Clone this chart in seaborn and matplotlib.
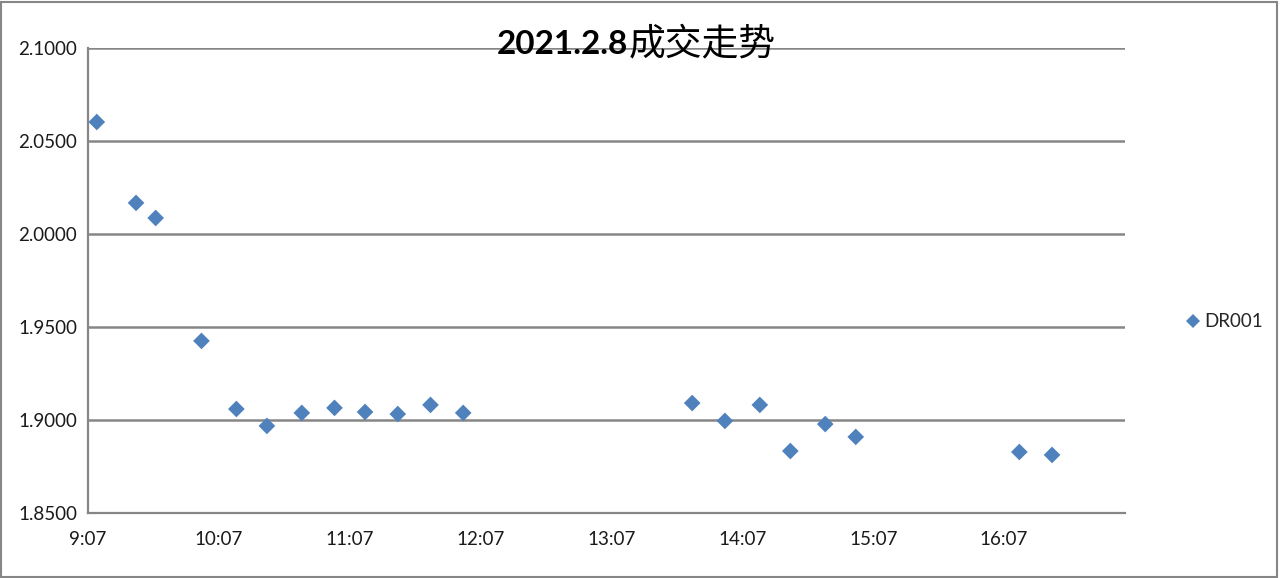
import pandas as pd
import numpy as np
import matplotlib
matplotlib.use("Agg")
import matplotlib.pyplot as plt
from matplotlib.ticker import FuncFormatter, MultipleLocator, FormatStrFormatter
import seaborn as sns

# trade times and rates
times = ["9:11", "9:29", "9:38", "9:59", "10:15", "10:29", "10:45", "11:00",
         "11:14", "11:29", "11:44", "11:59", "13:44", "13:59", "14:15", "14:29",
         "14:45", "14:59", "16:14", "16:29"]
rates = [2.0602, 2.0167, 2.0086, 1.9425, 1.9059, 1.8968, 1.9038, 1.9065,
         1.9043, 1.9032, 1.9081, 1.9038, 1.9091, 1.8995, 1.9081, 1.8833,
         1.8978, 1.8909, 1.8828, 1.8812]
series_name = "DR001"
title_date = "2021.2.8"
title_text = "成交走势"


def to_minutes(t):
    h, m = t.split(":")
    return int(h) * 60 + int(m)


df = pd.DataFrame({"minute": [to_minutes(t) for t in times], "rate": rates,
                   "series": series_name})

sns.set_theme(style="white")
plt.rcParams["font.family"] = ["Lato", "Noto Sans CJK SC", "DejaVu Sans"]

grey = "#868686"
blue = "#4F81BD"

fig = plt.figure(figsize=(12.8, 5.78), dpi=100)
ax = fig.add_axes([0.0688, 0.1125, 0.8102, 0.8045])

sns.scatterplot(data=df, x="minute", y="rate", hue="series", palette=[blue],
                marker="D", s=72, linewidth=0, ax=ax, legend=True)

ax.set_xlim(to_minutes("9:07"), 1022.5)
ax.set_ylim(1.85, 2.10)
ax.xaxis.set_major_locator(MultipleLocator(60, offset=to_minutes("9:07") % 60))
ax.xaxis.set_major_formatter(FuncFormatter(lambda v, p: f"{int(round(v)) // 60}:{int(round(v)) % 60:02d}"))
ax.yaxis.set_major_locator(MultipleLocator(0.05))
ax.yaxis.set_major_formatter(FormatStrFormatter("%.4f"))
ax.set_xlabel("")
ax.set_ylabel("")

ax.grid(axis="y", color=grey, linewidth=1.8)
ax.set_axisbelow(True)
for side in ["top", "right"]:
    ax.spines[side].set_visible(False)
for side in ["left", "bottom"]:
    ax.spines[side].set_color(grey)
    ax.spines[side].set_linewidth(1.6)
ax.tick_params(axis="both", direction="out", length=5, width=1.4, color=grey,
               labelsize=13.5, labelcolor="#1a1a1a")
ax.tick_params(axis="x", pad=8)
ax.tick_params(axis="y", pad=3)

# legend on the right
ax.get_legend().remove()
handles, labels = ax.get_legend_handles_labels()
fig.legend(handles, labels, loc="center left", bbox_to_anchor=(0.904, 0.443),
           frameon=False, fontsize=13.5, handletextpad=-0.4, markerscale=0.9)

# title: bold date, regular CJK text
fig.text(0.4906, 0.906, title_date, ha="right", va="baseline", fontsize=24,
         fontweight="bold", family=["Lato", "DejaVu Sans"], color="black")
fig.text(0.4914, 0.906, title_text, ha="left", va="baseline", fontsize=26.5,
         family=["Noto Sans CJK SC", "DejaVu Sans"], color="black")

# outer chart border
fig.patches.append(plt.Rectangle((0.001, 0.002), 0.997, 0.995, transform=fig.transFigure,
                                 fill=False, edgecolor=grey, linewidth=1.5))

fig.savefig("out.png", dpi=100)
